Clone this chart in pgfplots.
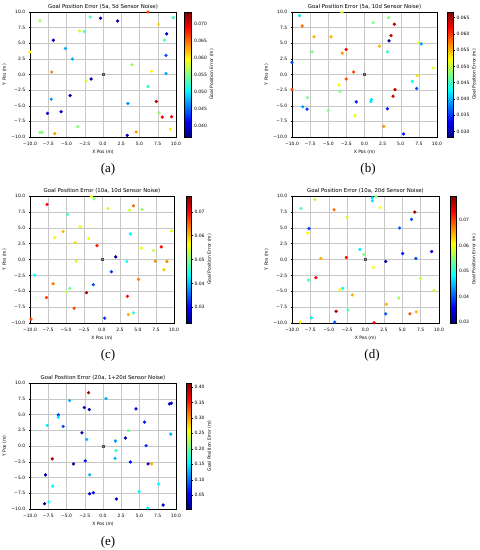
\documentclass[border=0pt]{standalone}
\usepackage{fontspec}
\setmainfont{DejaVu Sans}
\newfontfamily\serifl{Liberation Serif}
\usepackage{pgfplots}
\usepackage{pgfplotstable}
\pgfplotsset{compat=1.18}

\pgfplotstableread{
x y c
6.16 10.0 0.0662
-1.76 9.2 0.0534
-0.34 9.0 0.0386
2.0 8.57 0.0386
9.63 9.1 0.0523
-8.63 8.57 0.056
7.62 8.04 0.061
-3.2 6.97 0.058
-2.54 6.87 0.0534
8.72 6.5 0.0386
-6.8 5.49 0.0394
8.4 5.49 0.0534
-5.15 4.16 0.0478
8.63 3.05 0.0442
-10.0 3.63 0.060
-4.19 2.47 0.0478
3.96 1.56 0.056
-7.02 0.4 0.0644
6.66 0.5 0.060
8.63 0.13 0.0478
-1.62 -0.72 0.0379
-2.31 -1.03 0.058
6.16 -1.94 0.0523
-4.5 -3.37 0.0386
-7.1 -3.95 0.0467
7.3 -4.32 0.0718
3.41 -4.64 0.0467
-7.6 -6.23 0.0394
-5.74 -5.97 0.0397
7.67 -6.13 0.056
8.12 -6.82 0.0688
9.4 -6.76 0.0688
-3.45 -8.36 0.0552
-8.63 -9.26 0.0552
-8.35 -9.26 0.0552
-6.61 -9.47 0.0633
4.55 -9.2 0.0633
9.22 -8.73 0.0604
3.32 -9.73 0.0386
}\dataA

\pgfplotstableread{
x y c
-8.97 9.42 0.0417
-3.11 9.95 0.0506
-8.6 7.77 0.0579
1.19 8.3 0.0475
3.34 9.1 0.0475
4.12 8.04 0.0648
-6.96 6.02 0.0552
-4.62 6.02 0.0552
3.66 6.23 0.064
3.39 5.38 0.0295
7.5 5.12 0.0513
7.83 4.9 0.039
-7.23 3.63 0.0475
-2.52 4.0 0.0617
-3.07 3.42 0.0559
2.06 4.53 0.0552
3.16 3.63 0.0444
-10.0 1.93 0.036
9.47 1.03 0.0513
-1.51 0.4 0.059
-2.52 -0.72 0.059
7.28 -0.19 0.0536
-3.52 -1.67 0.0521
6.59 -1.09 0.0429
7.19 -2.25 0.036
-10.0 -2.41 0.059
-3.39 -2.68 0.0475
4.21 -2.41 0.064
3.94 -3.47 0.064
-7.87 -3.69 0.0475
0.96 -4.0 0.0417
0.87 -4.32 0.0417
-1.14 -4.38 0.0341
-8.51 -5.17 0.039
-7.92 -5.54 0.0348
3.16 -5.49 0.0341
-4.99 -5.75 0.0475
-1.33 -6.55 0.0513
2.65 -8.3 0.0563
5.4 -9.52 0.0341
}\dataB

\pgfplotstableread{
x y c
-7.63 8.67 0.0697
-1.44 9.9 0.0564
-1.1 9.55 0.050
0.84 8.04 0.0543
3.81 7.78 0.0543
4.37 8.46 0.0644
5.58 7.88 0.051
-4.79 7.1 0.0473
-3.07 5.17 0.0553
-5.4 4.39 0.0606
-6.56 3.45 0.0553
-3.72 2.66 0.0585
-1.86 3.29 0.0553
3.95 4.02 0.0431
9.63 4.49 0.0553
-0.7 2.19 0.0686
5.49 1.78 0.0564
8.23 1.98 0.0697
7.16 1.41 0.0532
1.91 0.42 0.025
-3.58 -0.26 0.0543
3.44 -0.31 0.0447
7.4 -0.26 0.0628
9.02 -0.31 0.0628
1.3 -1.93 0.033
8.6 -1.62 0.0596
-9.35 -2.45 0.0436
5.07 -3.13 0.0638
-1.21 -3.97 0.034
-6.79 -3.81 0.0638
-4.47 -4.54 0.049
-4.93 -5.12 0.0527
-7.72 -6.0 0.0676
-2.14 -5.22 0.075
3.53 -5.8 0.0697
-3.86 -7.68 0.066
0.37 -9.24 0.033
3.67 -8.67 0.0606
4.37 -8.41 0.0463
-9.86 -9.4 0.066
}\dataC

\pgfplotstableread{
x y c
-6.89 9.45 0.0576
0.9 9.7 0.0471
0.95 9.25 0.0471
1.44 9.9 0.0546
-8.78 8.04 0.0521
-4.28 7.83 0.068
-2.52 6.68 0.0586
1.98 8.15 0.0606
6.71 7.47 0.078
6.26 6.32 0.0397
4.64 4.96 0.0407
-7.7 4.86 0.0387
-7.88 4.18 0.0606
-0.77 1.57 0.0476
-0.23 0.78 0.0546
-2.61 0.31 0.073
-6.08 0.16 0.0646
2.75 -0.31 0.0322
5.05 0.94 0.0367
6.85 0.16 0.0397
9.0 1.25 0.0347
1.08 -1.25 0.0606
-6.76 -2.87 0.073
-7.75 -3.24 0.0521
7.48 -2.98 0.0576
-3.11 -4.54 0.0481
-3.51 -4.75 0.0606
-1.8 -5.59 0.0646
9.32 -4.86 0.0586
4.55 -6.06 0.0556
-2.39 -7.94 0.0521
-4.0 -8.15 0.078
2.84 -7.05 0.0646
2.75 -8.56 0.0407
6.04 -8.56 0.0695
6.89 -8.25 0.0646
-7.39 -9.19 0.0481
-8.87 -9.87 0.0611
-4.19 -9.87 0.0407
1.17 -9.97 0.073
}\dataD

\pgfplotstableread{
x y c
-1.97 8.47 0.401
0.41 7.53 0.127
-4.58 7.21 0.127
-2.56 6.1 0.025
-1.88 5.79 0.025
4.53 5.89 0.034
9.1 6.68 0.030
9.38 6.79 0.038
-6.13 4.95 0.078
-6.13 4.58 0.148
-5.45 3.1 0.087
-7.64 3.26 0.152
5.68 3.79 0.070
3.48 2.42 0.201
-2.88 2.1 0.017
9.29 1.89 0.127
-2.24 1.05 0.127
3.07 1.26 0.025
1.69 0.79 0.115
5.9 0.05 0.074
1.78 -0.74 0.180
1.65 -1.95 0.127
-6.96 -2.05 0.393
-2.43 -2.37 0.066
3.75 -2.53 0.066
-4.03 -2.84 0.017
6.18 -2.84 0.017
6.68 -2.84 0.291
-7.87 -4.58 0.034
-1.83 -4.58 0.127
-6.87 -6.37 0.156
7.6 -6.05 0.156
4.94 -7.26 0.156
-1.83 -7.58 0.034
-1.33 -7.42 0.062
1.83 -8.42 0.034
-7.41 -8.89 0.168
-8.01 -9.16 0.013
8.24 -9.37 0.034
6.13 -9.84 0.160
}\dataE

\def\fs{\fontsize{4.5}{5.4}\selectfont}
\pgfplotsset{
  goal/.style={
    scale only axis,
    anchor=north west,
    xmin=-10, xmax=10, ymin=-10, ymax=10,
    xtick={-10,-7.5,-5,-2.5,0,2.5,5,7.5,10},
    ytick={-10,-7.5,-5,-2.5,0,2.5,5,7.5,10},
    xticklabels={−10.0,−7.5,−5.0,−2.5,0.0,2.5,5.0,7.5,10.0},
    yticklabels={−10.0,−7.5,−5.0,−2.5,0.0,2.5,5.0,7.5,10.0},
    tick label style={font=\fs},
    label style={font=\fs},
    title style={font=\fontsize{5.4}{6.4}\selectfont, at={(0.5,1)}, anchor=south, yshift=-6pt, inner sep=2.2pt},
    xlabel={X Pos (m)}, ylabel={Y Pos (m)},
    xlabel style={inner sep=1.5pt},
    ylabel style={inner sep=1.5pt},
    grid=major,
    grid style={line width=0.3pt, color=black!22},
    axis line style={line width=0.35pt, black},
    tick align=outside, tick pos=left,
    major tick length=1.3pt,
    tick style={line width=0.3pt, black},
    colormap/jet,
    colorbar,
    colorbar style={
      at={(parent axis.north east)}, anchor=north west,
      scale only axis,
      height=\pgfkeysvalueof{/pgfplots/parent axis height},
      scaled y ticks=false,
      yticklabel pos=right,
      ytick pos=right,
      tick align=outside,
      major tick length=1.3pt,
      tick style={line width=0.3pt, black},
      yticklabel style={font=\fs, inner sep=1.5pt},
      ylabel={Goal Position Error (m)},
      ylabel style={font=\fs, inner sep=1.2pt},
      axis line style={line width=0.3pt, black},
    },
  },
  pts/.style={scatter, only marks, mark=*, mark size=1.45pt, scatter src=explicit,
    scatter/use mapped color={draw=mapped color, fill=mapped color}},
  orig/.style={only marks, mark=square*, mark size=0.9pt, draw=black!70, fill=black!45, forget plot},
}

\begin{document}
\begin{tikzpicture}
\useasboundingbox (0,0) rectangle (480pt,550pt);

% (a)
\begin{axis}[goal, at={(30pt,538pt)}, width=146pt, height=125pt,
  title={Goal Position Error (5a, 5d Sensor Noise)},
  point meta min=0.0368, point meta max=0.0736,
  colorbar style={xshift=-0.5pt, width=7pt,
    ytick={0.040,0.045,0.050,0.055,0.060,0.065,0.070},
    yticklabels={0.040,0.045,0.050,0.055,0.060,0.065,0.070}}]
\addplot[pts] table[x=x,y=y,meta=c] {\dataA};
\addplot[orig] coordinates {(0,0)};
\end{axis}

% (b)
\begin{axis}[goal, at={(292pt,538pt)}, width=145pt, height=125pt,
  title={Goal Position Error (5a, 10d Sensor Noise)},
  point meta min=0.0283, point meta max=0.0667,
  colorbar style={xshift=1.5pt, width=6.5pt,
    ytick={0.030,0.035,0.040,0.045,0.050,0.055,0.060,0.065},
    yticklabels={0.030,0.035,0.040,0.045,0.050,0.055,0.060,0.065}}]
\addplot[pts] table[x=x,y=y,meta=c] {\dataB};
\addplot[orig] coordinates {(0,0)};
\end{axis}

% (c)
\begin{axis}[goal, at={(30pt,354pt)}, width=144pt, height=127pt,
  title={Goal Position Error (10a, 10d Sensor Noise)},
  point meta min=0.0234, point meta max=0.0766,
  colorbar style={xshift=3.5pt, width=5.5pt,
    ytick={0.03,0.04,0.05,0.06,0.07},
    yticklabels={0.03,0.04,0.05,0.06,0.07}}]
\addplot[pts] table[x=x,y=y,meta=c] {\dataC};
\addplot[orig] coordinates {(0,0)};
\end{axis}

% (d)
\begin{axis}[goal, at={(292pt,354pt)}, width=147pt, height=127pt,
  title={Goal Position Error (10a, 20d Sensor Noise)},
  point meta min=0.0297, point meta max=0.0795,
  colorbar style={xshift=2.5pt, width=6pt,
    ytick={0.03,0.04,0.05,0.06,0.07},
    yticklabels={0.03,0.04,0.05,0.06,0.07}}]
\addplot[pts] table[x=x,y=y,meta=c] {\dataD};
\addplot[orig] coordinates {(0,0)};
\end{axis}

% (e)
\begin{axis}[goal, at={(30pt,167pt)}, width=146pt, height=126pt,
  title={Goal Position Error (20a, 1+20d Sensor Noise)},
  point meta min=0.005, point meta max=0.413,
  colorbar style={xshift=1.5pt, width=5.5pt,
    ytick={0.05,0.10,0.15,0.20,0.25,0.30,0.35,0.40},
    yticklabels={0.05,0.10,0.15,0.20,0.25,0.30,0.35,0.40}}]
\addplot[pts] table[x=x,y=y,meta=c] {\dataE};
\addplot[orig] coordinates {(0,0)};
\end{axis}

\node[font=\serifl\fontsize{13}{14}\selectfont] at (108pt,381pt) {(a)};
\node[font=\serifl\fontsize{13}{14}\selectfont] at (368pt,381pt) {(b)};
\node[font=\serifl\fontsize{13}{14}\selectfont] at (108pt,195pt) {(c)};
\node[font=\serifl\fontsize{13}{14}\selectfont] at (372pt,195pt) {(d)};
\node[font=\serifl\fontsize{13}{14}\selectfont] at (108pt,8pt) {(e)};
\end{tikzpicture}
\end{document}
